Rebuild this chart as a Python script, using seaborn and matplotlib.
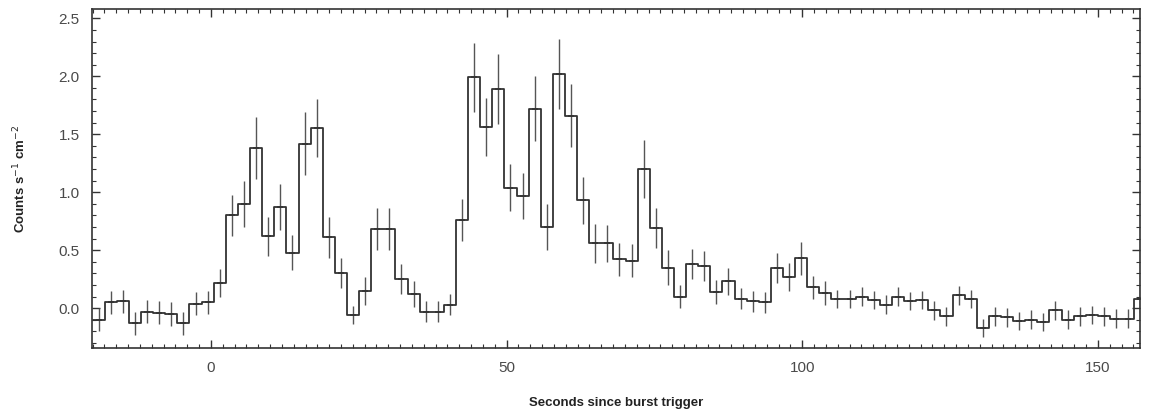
import numpy as np
import pandas as pd
import matplotlib
matplotlib.use("Agg")
import matplotlib.pyplot as plt
import seaborn as sns
from matplotlib.ticker import MultipleLocator

# ---- data ----
bin_start = -20.0      # s, start of first bin
bin_width = 2.048      # s
rate = [
    -0.10, 0.05, 0.06, -0.13, -0.03, -0.04, -0.05, -0.13, 0.04, 0.05,
    0.22, 0.80, 0.90, 1.38, 0.62, 0.87, 0.48, 1.42, 1.55, 0.61,
    0.30, -0.06, 0.15, 0.68, 0.68, 0.25, 0.12, -0.03, -0.03, 0.03,
    0.76, 1.99, 1.56, 1.89, 1.04, 0.97, 1.72, 0.70, 2.02, 1.66,
    0.93, 0.56, 0.56, 0.42, 0.41, 1.20, 0.69, 0.35, 0.10, 0.38,
    0.36, 0.14, 0.23, 0.08, 0.06, 0.05, 0.35, 0.27, 0.43, 0.18,
    0.13, 0.08, 0.08, 0.10, 0.07, 0.03, 0.10, 0.06, 0.07, -0.02,
    -0.07, 0.11, 0.08, -0.17, -0.07, -0.08, -0.11, -0.10, -0.12, -0.02,
    -0.10, -0.07, -0.06, -0.07, -0.09, -0.09, 0.08,
]
rate_err = [
    0.10, 0.10, 0.10, 0.10, 0.10, 0.10, 0.10, 0.10, 0.10, 0.10,
    0.12, 0.18, 0.20, 0.27, 0.17, 0.20, 0.15, 0.27, 0.25, 0.18,
    0.13, 0.08, 0.12, 0.18, 0.18, 0.13, 0.11, 0.09, 0.09, 0.09,
    0.18, 0.30, 0.25, 0.30, 0.20, 0.20, 0.28, 0.20, 0.30, 0.27,
    0.20, 0.17, 0.16, 0.14, 0.14, 0.25, 0.17, 0.15, 0.10, 0.13,
    0.13, 0.10, 0.12, 0.09, 0.09, 0.09, 0.13, 0.12, 0.14, 0.10,
    0.10, 0.08, 0.08, 0.08, 0.08, 0.08, 0.08, 0.08, 0.08, 0.08,
    0.08, 0.08, 0.08, 0.08, 0.08, 0.08, 0.08, 0.08, 0.08, 0.08,
    0.08, 0.08, 0.08, 0.08, 0.08, 0.08, 0.12,
]
x_ticks = [0, 50, 100, 150]
y_ticks = [0.0, 0.5, 1.0, 1.5, 2.0, 2.5]
x_label = "Seconds since burst trigger"
y_label = r"Counts s$^{-1}$ cm$^{-2}$"

# ---- derived positions ----
n = len(rate)
edges = bin_start + bin_width * np.arange(n + 1)
centers = edges[:-1] + bin_width / 2
step_df = pd.DataFrame({"t": edges, "rate": list(rate) + [rate[-1]]})

sns.set_theme(style="ticks")
plt.rcParams["font.family"] = ["Liberation Sans Narrow", "Liberation Sans", "DejaVu Sans"]

fig = plt.figure(figsize=(11.53, 4.12), dpi=100)
ax = fig.add_axes([0.0798, 0.155, 0.9089, 0.823])

ink = "#333333"
ax.errorbar(centers, rate, yerr=rate_err, fmt="none", ecolor="#555555",
            elinewidth=1.0, capsize=0, zorder=2)
ax.plot(centers, rate, linestyle="none", marker="_", markersize=5,
        color=ink, markeredgewidth=1.2, zorder=3)
sns.lineplot(data=step_df, x="t", y="rate", drawstyle="steps-post",
             color=ink, linewidth=1.3, ax=ax, zorder=4)

ax.set_xlim(-20.1, 157.1)
ax.set_ylim(-0.345, 2.58)
ax.set_xticks(x_ticks)
ax.set_xticklabels([str(v) for v in x_ticks])
ax.set_yticks(y_ticks)
ax.set_yticklabels([f"{v:.1f}" for v in y_ticks])
ax.xaxis.set_minor_locator(MultipleLocator(2))
ax.yaxis.set_minor_locator(MultipleLocator(0.1))
ax.tick_params(which="both", direction="in", top=True, right=True,
               color=ink, labelcolor="#4a4a4a")
ax.tick_params(which="major", length=6, width=1.0, labelsize=11, pad=9)
ax.tick_params(which="minor", length=3, width=0.8)
for s in ax.spines.values():
    s.set_color(ink)
    s.set_linewidth(1.2)

ax.set_xlabel(x_label, fontsize=9.5, fontweight="bold", color="#222222", labelpad=16)
ax.set_ylabel(y_label, fontsize=9.5, fontweight="bold", color="#222222", labelpad=22)

fig.savefig("out.png", dpi=100)
